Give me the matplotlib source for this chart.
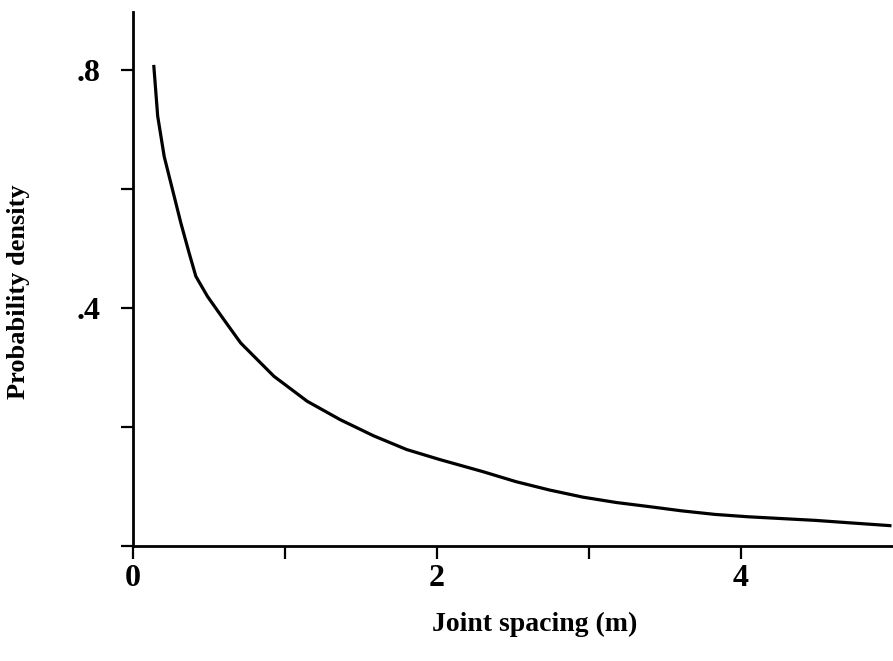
import matplotlib
matplotlib.use('Agg')
import matplotlib.pyplot as plt
from matplotlib.ticker import FixedLocator

# joint spacing (m) vs probability density
spacing = [0.136, 0.162, 0.205, 0.260, 0.315, 0.369, 0.413, 0.490, 0.598,
           0.708, 0.927, 1.146, 1.364, 1.583, 1.80, 2.02, 2.30, 2.52, 2.74,
           2.96, 3.18, 3.40, 3.61, 3.83, 4.05, 4.27, 4.49, 4.71, 4.99]
density = [0.808, 0.722, 0.654, 0.598, 0.542, 0.492, 0.453, 0.419, 0.380,
           0.341, 0.285, 0.243, 0.212, 0.185, 0.162, 0.145, 0.125, 0.108,
           0.094, 0.082, 0.073, 0.066, 0.059, 0.053, 0.049, 0.046, 0.043,
           0.039, 0.034]

x_ticks = [0, 1, 2, 3, 4]
x_tick_labels = ['0', '', '2', '', '4']
y_ticks = [0, 0.4, 0.8]
y_tick_labels = ['', '.4', '.8']
y_minor = [0.2, 0.6]

serif = ['Liberation Serif', 'DejaVu Serif']

fig = plt.figure(figsize=(8.93, 6.61), dpi=100)
ax = fig.add_axes([0.149, 0.174, 0.851, 0.808])

ax.plot(spacing, density, color='black', lw=2.3, solid_capstyle='butt',
        solid_joinstyle='round')

ax.set_xlim(0, 5.0)
ax.set_ylim(0, 0.897)

for side in ['top', 'right']:
    ax.spines[side].set_visible(False)
for side in ['left', 'bottom']:
    ax.spines[side].set_linewidth(2.0)

ax.set_xticks(x_ticks)
ax.set_xticklabels(x_tick_labels)
ax.set_yticks(y_ticks)
ax.set_yticklabels(y_tick_labels)
ax.yaxis.set_minor_locator(FixedLocator(y_minor))

ax.tick_params(axis='both', which='both', direction='out', width=1.6,
               length=9, color='black')
ax.tick_params(axis='x', pad=4)
ax.tick_params(axis='y', pad=14)
for lbl in ax.get_xticklabels() + ax.get_yticklabels():
    lbl.set_fontfamily(serif)
    lbl.set_fontweight('bold')
    lbl.set_fontsize(23)

ax.set_xlabel('Joint spacing (m)', family=serif, fontweight='bold',
              fontsize=20)
ax.xaxis.set_label_coords(0.529, -0.124)
ax.set_ylabel('Probability density', family=serif, fontweight='bold',
              fontsize=19)
ax.yaxis.set_label_coords(-0.135, 0.476)

fig.savefig('out.png', dpi=100)
